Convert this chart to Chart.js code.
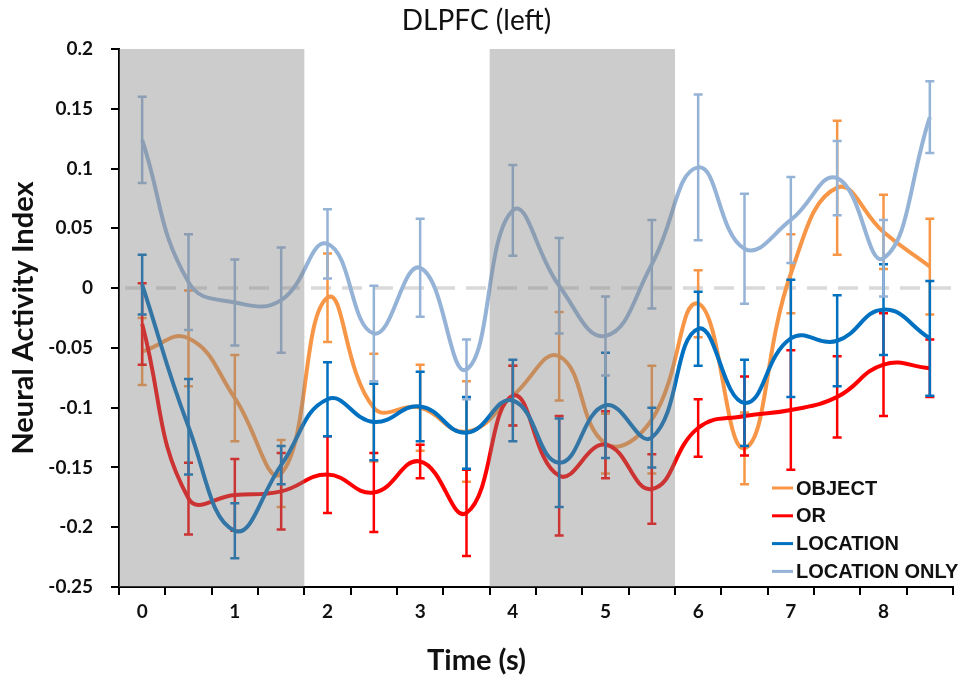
<!DOCTYPE html>
<html>
<head>
<meta charset="utf-8">
<script src="https://cdn.jsdelivr.net/npm/chart.js@4.4.0/dist/chart.umd.min.js"></script>
<style>
  html, body { margin: 0; padding: 0; background: #fff; }
  #wrap { width: 961px; height: 682px; }
</style>
</head>
<body>
<div id="wrap"><canvas id="dlpfc"></canvas></div>
<script>
// time points (s), one category each
const times = [0, 0.5, 1, 1.5, 2, 2.5, 3, 3.5, 4, 4.5, 5, 5.5, 6, 6.5, 7, 7.5, 8, 8.5];

// series means and error bar half-lengths
const objectMean = [-0.053, -0.042, -0.092, -0.155, -0.008, -0.100, -0.100, -0.120, -0.090, -0.057, -0.130, -0.110, -0.013, -0.134, 0.012, 0.084, 0.047, 0.018];
const objectErr  = [0.028, 0.040, 0.036, 0.028, 0.037, 0.045, 0.036, 0.042, 0.025, 0.037, 0.025, 0.045, 0.028, 0.030, 0.033, 0.056, 0.031, 0.040];

const orMean = [-0.030, -0.176, -0.173, -0.170, -0.156, -0.171, -0.145, -0.188, -0.090, -0.157, -0.131, -0.168, -0.117, -0.107, -0.102, -0.091, -0.064, -0.067];
const orErr  = [0.034, 0.030, 0.030, 0.032, 0.032, 0.033, 0.014, 0.036, 0.025, 0.050, 0.028, 0.029, 0.024, 0.033, 0.050, 0.034, 0.043, 0.024];

const locationMean = [0.003, -0.116, -0.203, -0.148, -0.093, -0.112, -0.099, -0.121, -0.094, -0.146, -0.098, -0.125, -0.034, -0.096, -0.042, -0.044, -0.018, -0.042];
const locationErr  = [0.025, 0.040, 0.023, 0.016, 0.031, 0.032, 0.029, 0.030, 0.034, 0.037, 0.044, 0.025, 0.031, 0.036, 0.049, 0.038, 0.038, 0.048];

const locOnlyMean = [0.124, 0.005, -0.012, -0.010, 0.037, -0.038, 0.017, -0.068, 0.065, 0.002, -0.040, 0.020, 0.101, 0.033, 0.057, 0.092, 0.025, 0.143];
const locOnlyErr  = [0.036, 0.040, 0.036, 0.044, 0.029, 0.040, 0.041, 0.025, 0.038, 0.040, 0.033, 0.037, 0.061, 0.046, 0.036, 0.031, 0.032, 0.030];

// shaded time spans (first and last time point covered)
const shadedPeriods = [[0, 1.5], [4, 5.5]];

const yMin = -0.25, yMax = 0.2;

// error bars, drawn right after each line
const errorBarPlugin = {
  id: 'errorBars',
  afterDatasetDraw(chart, args) {
    const ds = chart.data.datasets[args.index];
    if (!ds.errorBars) return;
    const y = chart.scales.y;
    const ctx = chart.ctx;
    ctx.save();
    ctx.strokeStyle = ds.borderColor;
    ctx.lineWidth = 2.5;
    args.meta.data.forEach((pt, i) => {
      const v = ds.data[i], e = ds.errorBars[i];
      const top = y.getPixelForValue(v + e);
      const bot = y.getPixelForValue(v - e);
      ctx.beginPath();
      ctx.moveTo(pt.x, top); ctx.lineTo(pt.x, bot);
      ctx.moveTo(pt.x - 4.5, top); ctx.lineTo(pt.x + 4.5, top);
      ctx.moveTo(pt.x - 4.5, bot); ctx.lineTo(pt.x + 4.5, bot);
      ctx.stroke();
    });
    ctx.restore();
  }
};

// translucent grey bands over the shaded periods, laid over the lines
const shadePlugin = {
  id: 'shade',
  afterDatasetsDraw(chart) {
    const { ctx, chartArea, scales } = chart;
    const x = scales.x, y = scales.y;
    const half = (x.getPixelForValue(1) - x.getPixelForValue(0)) / 2;
    ctx.save();
    ctx.fillStyle = 'rgba(128,128,128,0.4)';
    shadedPeriods.forEach(([a, b]) => {
      const left = Math.max(chartArea.left, x.getPixelForValue(times.indexOf(a)) - half);
      const right = x.getPixelForValue(times.indexOf(b)) + half;
      const top = y.getPixelForValue(yMax);
      const bottom = y.getPixelForValue(yMin);
      ctx.fillRect(left, top, right - left, bottom - top);
    });
    ctx.restore();
  }
};

// dashed line at zero
const zeroLinePlugin = {
  id: 'zeroLine',
  beforeDatasetsDraw(chart) {
    const { ctx, chartArea, scales } = chart;
    const y0 = scales.y.getPixelForValue(0);
    ctx.save();
    ctx.strokeStyle = '#d9d9d9';
    ctx.lineWidth = 3.5;
    ctx.setLineDash([20, 11]);
    ctx.beginPath();
    ctx.moveTo(chartArea.left + 6, y0);
    ctx.lineTo(chartArea.right, y0);
    ctx.stroke();
    ctx.restore();
  }
};

// legend inside the plot, bottom right
const insideLegend = {
  id: 'insideLegend',
  afterDraw(chart) {
    const { ctx, chartArea } = chart;
    ctx.save();
    ctx.font = 'bold 20px "Liberation Sans", Arial, sans-serif';
    ctx.textBaseline = 'middle';
    ctx.fillStyle = '#111';
    const x = chartArea.right - 181;
    let y = chartArea.bottom - 99;
    chart.data.datasets.forEach(d => {
      ctx.strokeStyle = d.borderColor;
      ctx.lineWidth = 3;
      ctx.beginPath();
      ctx.moveTo(x, y); ctx.lineTo(x + 21, y);
      ctx.stroke();
      ctx.fillText(d.label, x + 24, y + 1);
      y += 27.8;
    });
    ctx.restore();
  }
};

function lineSet(label, data, err, color, order) {
  return {
    label, data, errorBars: err,
    borderColor: color, backgroundColor: color,
    borderWidth: 4, pointRadius: 0, tension: 0.45,
    fill: false, order
  };
}

new Chart(document.getElementById('dlpfc'), {
  type: 'line',
  data: {
    labels: times.map(String),
    datasets: [
      lineSet('OBJECT', objectMean, objectErr, '#F79646', 4),
      lineSet('OR', orMean, orErr, '#FF0000', 3),
      lineSet('LOCATION', locationMean, locationErr, '#0070C0', 2),
      lineSet('LOCATION ONLY', locOnlyMean, locOnlyErr, '#95B3D7', 1)
    ]
  },
  options: {
    responsive: true,
    maintainAspectRatio: false,
    animation: false,
    layout: { padding: { left: 0, right: 8, top: 0, bottom: 0 } },
    plugins: {
      legend: { display: false },
      tooltip: { enabled: false },
      title: {
        display: true, text: 'DLPFC (left)', color: '#111',
        font: { family: 'Lato', size: 28, weight: 'normal' },
        padding: { top: 4, bottom: 11.4 }
      },
      subtitle: {
        display: true, text: 'Time (s)', position: 'bottom', color: '#111',
        font: { family: 'Lato', size: 29, weight: 'bold' },
        padding: { top: 6, bottom: 3.6 }
      }
    },
    scales: {
      x: {
        type: 'category',
        offset: true,
        grid: { offset: true, drawOnChartArea: false, drawTicks: true, tickLength: 8, color: '#000', lineWidth: 2 },
        border: { color: '#000', width: 2 },
        ticks: {
          autoSkip: false, maxRotation: 0, padding: 5, color: '#111',
          font: { family: 'Lato', size: 19, weight: 'bold' },
          callback: (v, i) => Number.isInteger(times[i]) ? String(times[i]) : ''
        },
        afterFit: s => { s.height = 50.6; }
      },
      y: {
        min: yMin, max: yMax,
        grid: { drawOnChartArea: false, drawTicks: true, tickLength: 8, color: '#000', lineWidth: 2 },
        border: { color: '#000', width: 2 },
        ticks: {
          stepSize: 0.05, padding: 18, color: '#111',
          font: { family: 'Lato', size: 19, weight: 'bold' },
          callback: v => String(+v.toFixed(2))
        },
        title: {
          display: true, text: 'Neural Activity Index', color: '#111',
          font: { family: 'Lato', size: 29, weight: 'bold' },
          padding: { top: 6, bottom: 0 }
        },
        afterFit: s => { s.width = 119; }
      }
    }
  },
  plugins: [zeroLinePlugin, errorBarPlugin, shadePlugin, insideLegend]
});
</script>
</body>
</html>
